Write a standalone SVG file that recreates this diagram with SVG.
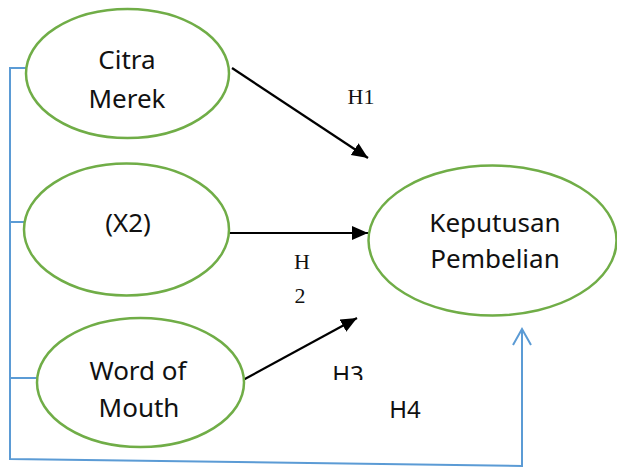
<svg xmlns="http://www.w3.org/2000/svg" width="617" height="470" viewBox="0 0 617 470">
<style>
.node ellipse{fill:#fff;stroke:#70AD47;stroke-width:2.5}
.lbl{font-family:"Noto Sans","Open Sans",sans-serif;font-size:26px;fill:#111;text-anchor:middle}
.h{font-family:"Liberation Serif","Times New Roman",serif;font-size:22px;fill:#111;text-anchor:middle}
.hs{font-family:"Noto Sans","Open Sans",sans-serif;font-size:24px;fill:#111;text-anchor:middle}
.arr{stroke:#000;stroke-width:2.2;fill:none}
.blue{stroke:#5B9BD5;stroke-width:2;fill:none}
</style>
<defs>
<marker id="ah" markerUnits="userSpaceOnUse" markerWidth="18" markerHeight="16" refX="16" refY="7" orient="auto">
<path d="M0,0 L16,7 L0,14 z" fill="#000"/>
</marker>
<clipPath id="h3clip"><rect x="320" y="350" width="60" height="30"/></clipPath>
</defs>
<g id="connectors">
<polyline class="blue" points="27,68 10,68 10,459 522,466 522,329"/>
<line class="blue" x1="10" y1="222" x2="25" y2="222"/>
<line class="blue" x1="10" y1="378" x2="38" y2="378"/>
<polyline class="blue" points="513,345 522,329 531,345"/>
<line class="arr" x1="232" y1="68" x2="368" y2="158" marker-end="url(#ah)"/>
<line class="arr" x1="229" y1="233" x2="368" y2="233" marker-end="url(#ah)"/>
<line class="arr" x1="243" y1="380" x2="357" y2="318" marker-end="url(#ah)"/>
</g>
<g id="node-citra" class="node">
<ellipse cx="127.5" cy="73.5" rx="101.5" ry="64.5"/>
<text class="lbl" x="127" y="69">Citra</text>
<text class="lbl" x="127" y="108">Merek</text>
</g>
<g id="node-x2" class="node">
<ellipse cx="126.5" cy="229.5" rx="102.5" ry="66"/>
<text class="lbl" x="128" y="232">(X2)</text>
</g>
<g id="node-wom" class="node">
<ellipse cx="140.5" cy="382.5" rx="103.5" ry="64.5"/>
<text class="lbl" x="138" y="380">Word of</text>
<text class="lbl" x="139" y="417">Mouth</text>
</g>
<g id="node-keputusan" class="node">
<ellipse cx="492.5" cy="240.5" rx="124" ry="75"/>
<text class="lbl" x="495" y="232">Keputusan</text>
<text class="lbl" x="495" y="268">Pembelian</text>
</g>
<g id="labels">
<text class="h" x="361" y="104">H1</text>
<text class="h" x="302" y="269">H</text>
<text class="h" x="300" y="303">2</text>
<text class="hs" x="348" y="383" clip-path="url(#h3clip)">H3</text>
<text class="hs" x="405" y="418">H4</text>
</g>
</svg>
